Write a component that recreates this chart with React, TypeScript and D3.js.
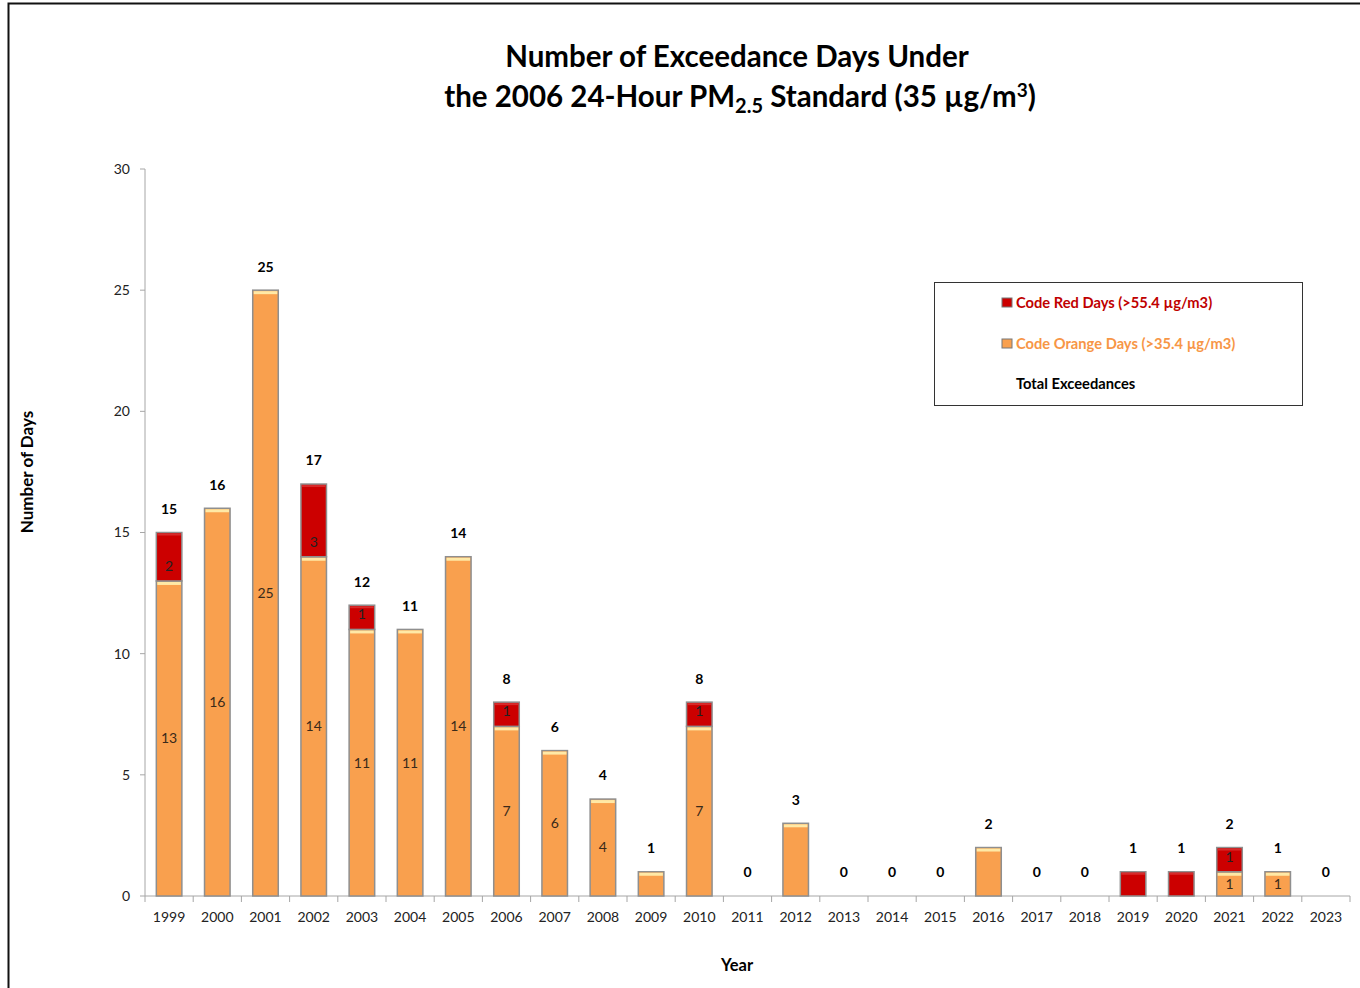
import React from 'react'
import * as d3 from 'd3'

const years = ['1999','2000','2001','2002','2003','2004','2005','2006','2007','2008','2009','2010','2011','2012','2013','2014','2015','2016','2017','2018','2019','2020','2021','2022','2023']
const orangeDays = [13,16,25,14,11,11,14,7,6,4,1,7,0,3,0,0,0,2,0,0,0,0,1,1,0]
const redDays = [2,0,0,3,1,0,0,1,0,0,0,1,0,0,0,0,0,0,0,0,1,1,1,0,0]
// which inner segment labels were kept in the original chart
const showOrangeLabel = [1,1,1,1,1,1,1,1,1,1,0,1,0,0,0,0,0,0,0,0,0,0,1,1,0]
const showRedLabel = [1,0,0,1,1,0,0,1,0,0,0,1,0,0,0,0,0,0,0,0,0,0,1,0,0]
const yTicks = [0, 5, 10, 15, 20, 25, 30]

const FONT = 'Lato, "Open Sans", sans-serif'
const ORANGE = '#F9A04E'
const RED = '#CC0000'

export default function App() {
  const width = 1360
  const height = 988
  const x0 = 145, x1 = 1350, yTop = 169, yBottom = 896

  const x = d3.scaleBand().domain(years).range([x0, x1]).paddingInner(0.47).paddingOuter(0.235)
  const slot = d3.scaleBand().domain(years).range([x0, x1])
  const y = d3.scaleLinear().domain([0, 30]).range([yBottom, yTop])
  const bw = x.bandwidth()

  const segment = (key: string, xx: number, lo: number, hi: number, fill: string, hl: string, hlH: number) => {
    const top = y(hi), bot = y(lo)
    return (
      <g key={key}>
        <rect x={xx} y={top} width={bw} height={bot - top} fill={fill} stroke="#8f8f8f" strokeWidth={1.5} />
        <rect x={xx + 1} y={top + 1} width={bw - 2} height={hlH} fill={hl} />
      </g>
    )
  }

  return (
    <svg width={width} height={height} style={{ display: 'block', position: 'absolute', left: 0, top: 0 }} fontFamily={FONT}>
      <rect x={0} y={0} width={width} height={height} fill="#fff" />
      <rect x={8.5} y={3.5} width={width + 20} height={height + 20} fill="none" stroke="#111" strokeWidth={2} />

      <text x={737} y={67} textAnchor="middle" fontSize={29.5} fontWeight="bold" fill="#000">Number of Exceedance Days Under</text>
      <text x={740} y={107} textAnchor="middle" fontSize={29.5} fontWeight="bold" fill="#000">
        the 2006 24-Hour PM<tspan fontSize={20} dy={6}>2.5</tspan><tspan dy={-6}> Standard (35 µg/m</tspan><tspan fontSize={19} dy={-10}>3</tspan><tspan dy={10}>)</tspan>
      </text>

      {/* y axis */}
      <line x1={x0} x2={x0} y1={yTop} y2={yBottom} stroke="#a6a6a6" />
      {yTicks.map(t => (
        <g key={t}>
          <line x1={x0 - 5} x2={x0} y1={y(t)} y2={y(t)} stroke="#a6a6a6" />
          <text x={130} y={y(t)} dy="0.35em" textAnchor="end" fontSize={14} fill="#222">{t}</text>
        </g>
      ))}
      <text transform={`translate(33,472) rotate(-90)`} textAnchor="middle" fontSize={17} fontWeight="bold" fill="#000">Number of Days</text>

      {/* x axis */}
      <line x1={x0} x2={x1} y1={yBottom} y2={yBottom} stroke="#a6a6a6" />
      {years.map(yr => (
        <line key={'t' + yr} x1={slot(yr)!} x2={slot(yr)!} y1={yBottom} y2={yBottom + 6} stroke="#a6a6a6" />
      ))}
      <line x1={x1} x2={x1} y1={yBottom} y2={yBottom + 6} stroke="#a6a6a6" />
      {years.map(yr => (
        <text key={'l' + yr} x={slot(yr)! + slot.bandwidth() / 2} y={922} textAnchor="middle" fontSize={14} fill="#222">{yr}</text>
      ))}
      <text x={737} y={971} textAnchor="middle" fontSize={16.5} fontWeight="bold" fill="#000">Year</text>

      {/* bars */}
      {years.map((yr, i) => {
        const xx = x(yr)!
        const o = orangeDays[i], r = redDays[i], total = o + r
        const cx = xx + bw / 2
        return (
          <g key={yr}>
            {o > 0 && segment('o' + yr, xx, 0, o, ORANGE, '#FFE9A6', 3)}
            {r > 0 && segment('r' + yr, xx, o, o + r, RED, '#D82A2A', 2)}
            {o > 0 && showOrangeLabel[i] === 1 && (
              <text x={cx} y={y(o / 2)} dy="0.35em" textAnchor="middle" fontSize={14} fill="#3a2a1a">{o}</text>
            )}
            {r > 0 && showRedLabel[i] === 1 && (
              <text x={cx} y={y(o) - 15} dy="0.35em" textAnchor="middle" fontSize={14} fill="#222">{r}</text>
            )}
            <text x={cx} y={y(total) - 23.5} dy="0.35em" textAnchor="middle" fontSize={14} fontWeight="bold" fill="#000">{total}</text>
          </g>
        )
      })}

      {/* legend */}
      <rect x={934.5} y={282.5} width={368} height={123} fill="#fff" stroke="#333" strokeWidth={1} />
      <rect x={1002} y={298} width={10} height={9} fill={RED} stroke="#777" strokeWidth={1} />
      <text x={1016} y={303} dy="0.35em" fontSize={14.7} fontWeight="bold" fill="#C00000">Code Red Days (&gt;55.4 µg/m3)</text>
      <rect x={1002} y={339} width={10} height={9} fill={ORANGE} stroke="#777" strokeWidth={1} />
      <text x={1016} y={344} dy="0.35em" fontSize={14.7} fontWeight="bold" fill="#F79646">Code Orange Days (&gt;35.4 µg/m3)</text>
      <text x={1016} y={384} dy="0.35em" fontSize={14.7} fontWeight="bold" fill="#000">Total Exceedances</text>
    </svg>
  )
}
